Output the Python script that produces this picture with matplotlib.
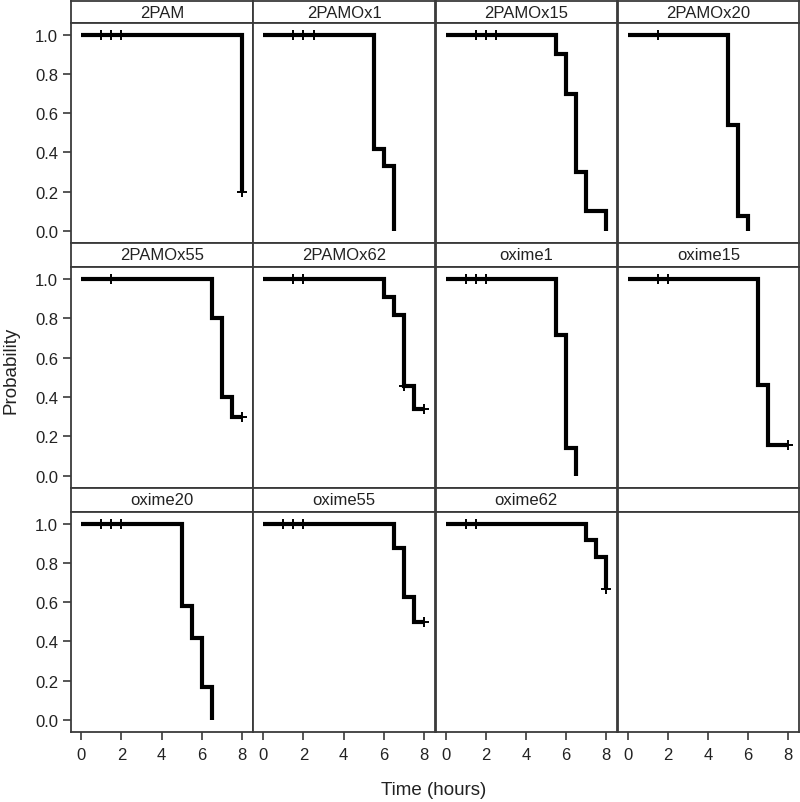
import numpy as np
import matplotlib
matplotlib.use("Agg")
import matplotlib.pyplot as plt

plt.rcParams['font.family'] = ['Liberation Sans', 'DejaVu Sans']

# panel titles, in reading order
groups = ['2PAM', '2PAMOx1', '2PAMOx15', '2PAMOx20',
          '2PAMOx55', '2PAMOx62', 'oxime1', 'oxime15',
          'oxime20', 'oxime55', 'oxime62']

# event times (hours) and survival after each event
event_times = [
    [8.0],
    [5.5, 6.0, 6.5],
    [5.5, 6.0, 6.5, 7.0, 8.0],
    [5.0, 5.5, 6.0],
    [6.5, 7.0, 7.5],
    [6.0, 6.5, 7.0, 7.5],
    [5.5, 6.0, 6.5],
    [6.5, 7.0],
    [5.0, 5.5, 6.0, 6.5],
    [6.5, 7.0, 7.5],
    [7.0, 7.5, 8.0],
]
survival = [
    [0.2],
    [0.417, 0.333, 0.0],
    [0.9, 0.7, 0.3, 0.1, 0.0],
    [0.538, 0.077, 0.0],
    [0.8, 0.4, 0.3],
    [0.909, 0.818, 0.455, 0.341],
    [0.714, 0.143, 0.0],
    [0.46, 0.154],
    [0.583, 0.417, 0.167, 0.0],
    [0.875, 0.625, 0.5],
    [0.917, 0.833, 0.667],
]
# censored times
censored = [
    [1.0, 1.5, 2.0, 8.0],
    [1.5, 2.0, 2.5],
    [1.5, 2.0, 2.5],
    [1.5],
    [1.5, 8.0],
    [1.5, 2.0, 7.0, 8.0],
    [1.0, 1.5, 2.0],
    [1.5, 2.0, 8.0],
    [1.0, 1.5, 2.0],
    [1.0, 1.5, 2.0, 8.0],
    [1.0, 1.5, 8.0],
]

x_ticks = [0, 2, 4, 6, 8]
y_ticks = [0.0, 0.2, 0.4, 0.6, 0.8, 1.0]

W, H = 800, 803
fig = plt.figure(figsize=(W / 100, H / 100), dpi=100)

col_left = [71.3, 253.3, 435.5, 617.5]
col_w = 181.7
rows = [(2, 24, 244), (244, 268, 489), (489, 513, 733)]  # strip top, panel top, panel bottom
edge = '#3a3a3a'


def px_axes(l, t, w, h):
    return fig.add_axes([l / W, 1 - (t + h) / H, w / W, h / H])


for idx in range(12):
    r, c = divmod(idx, 4)
    s_top, p_top, p_bot = rows[r]
    # strip
    sax = px_axes(col_left[c], s_top, col_w, p_top - s_top)
    sax.set_xticks([])
    sax.set_yticks([])
    for sp in sax.spines.values():
        sp.set_color(edge)
        sp.set_linewidth(1.3)
    if idx < len(groups):
        sax.text(0.5, 0.5, groups[idx], ha='center', va='center', fontsize=12,
                 color='#222222', transform=sax.transAxes)

    ax = px_axes(col_left[c], p_top, col_w, p_bot - p_top)
    ax.set_xlim(-0.5, 8.55)
    ax.set_ylim(-0.062, 1.06)
    for sp in ax.spines.values():
        sp.set_color(edge)
        sp.set_linewidth(1.3)
    ax.tick_params(direction='out', length=5.5, width=1.2, color=edge,
                   labelsize=12, labelcolor='#222222')
    if c == 0:
        ax.set_yticks(y_ticks)
        ax.set_yticklabels(['%.1f' % v for v in y_ticks])
        ax.tick_params(axis='y', pad=4)
    else:
        ax.set_yticks([])
    if r == 2:
        ax.set_xticks(x_ticks)
        ax.tick_params(axis='x', length=6, pad=5)
    else:
        ax.set_xticks([])

    if idx >= len(groups):
        continue

    t_ev = np.array(event_times[idx])
    s_ev = np.array(survival[idx])
    t_cen = np.array(censored[idx])
    t_end = max(t_ev.max(), t_cen.max())
    xs = np.concatenate([[0.0], t_ev, [t_end]])
    ys = np.concatenate([[1.0], s_ev, [s_ev[-1]]])
    ax.step(xs, ys, where='post', color='black', lw=3,
            solid_joinstyle='miter', solid_capstyle='butt', zorder=3)

    # survival level at each censor time
    lev = np.array([ys[np.searchsorted(xs, tc, side='right') - 1] for tc in t_cen])
    ax.plot(t_cen, lev, ls='none', marker='+', ms=7, mew=1.4, color='black', zorder=4)

fig.text(11 / W, 1 - 370 / H, 'Probability', rotation=90, ha='center', va='center',
         fontsize=13.5, color='#222222')
fig.text(434 / W, 1 - 791 / H, 'Time (hours)', ha='center', va='center',
         fontsize=13.5, color='#222222')

fig.savefig('out.png', dpi=100)
